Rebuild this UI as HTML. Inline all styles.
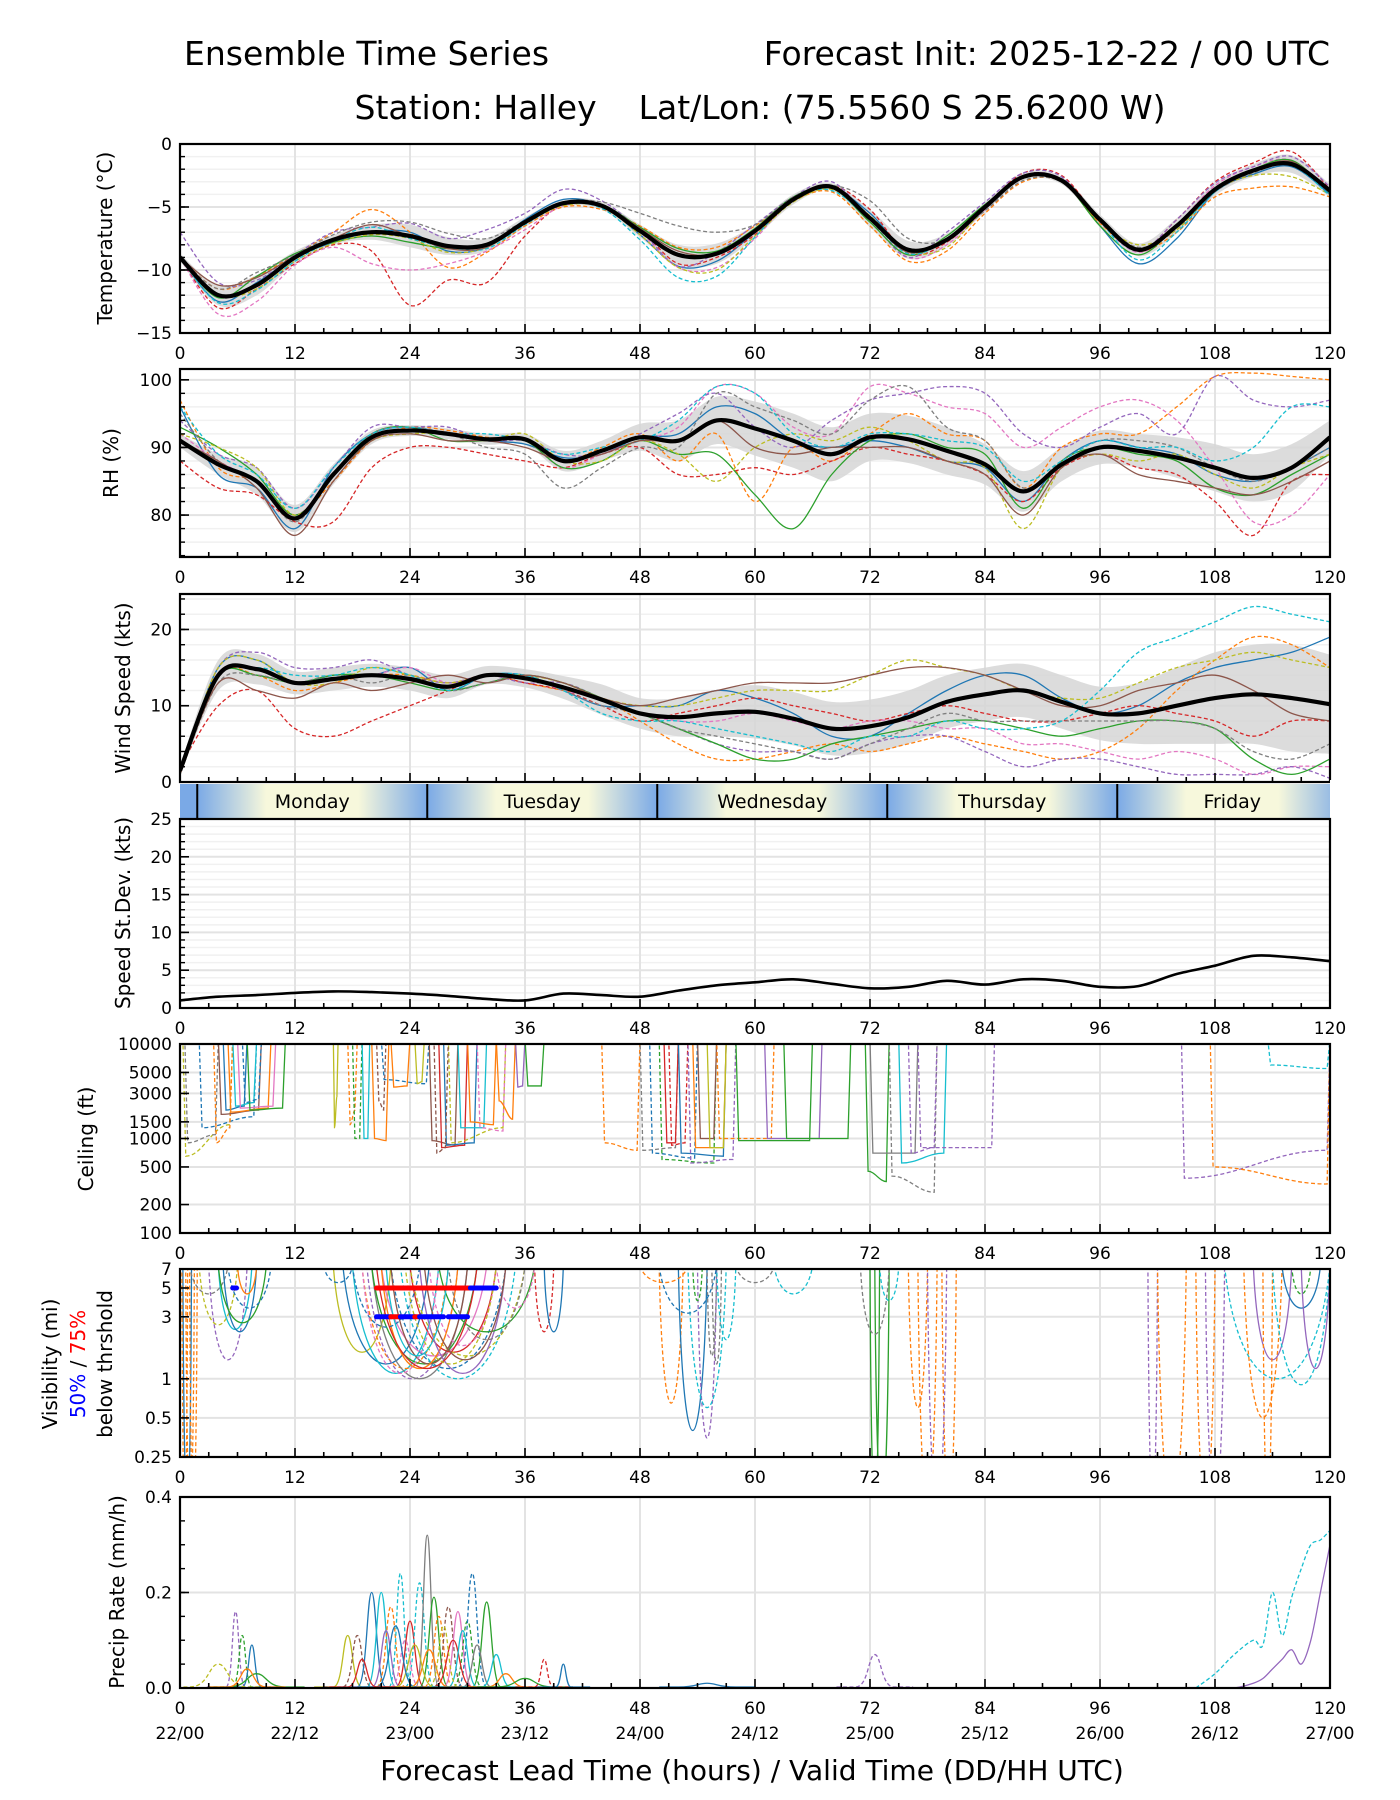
<!DOCTYPE html>
<html><head><meta charset="utf-8"><title>Ensemble Time Series - Halley</title>
<style>
html,body{margin:0;padding:0;background:#fff;}
svg{display:block;font-family:"DejaVu Sans","Liberation Sans",sans-serif;}
</style></head>
<body>
<svg id="chart" width="1400" height="1800" viewBox="0 0 1400 1800" xmlns="http://www.w3.org/2000/svg">
<rect x="0" y="0" width="1400" height="1800" fill="#fff"/>
<text x="184" y="65" font-size="33">Ensemble Time Series</text>
<text x="1330" y="65" font-size="33" text-anchor="end">Forecast Init: 2025-12-22 / 00 UTC</text>
<text x="760" y="119" font-size="33" text-anchor="middle" xml:space="preserve">Station: Halley    Lat/Lon: (75.5560 S 25.6200 W)</text>
<defs>
<linearGradient id="dayGrad" x1="0" x2="1" y1="0" y2="0">
<stop offset="0" stop-color="#7aa9e6"/><stop offset="0.3" stop-color="#f7f8dc"/><stop offset="0.7" stop-color="#f7f8dc"/><stop offset="1" stop-color="#7aa9e6"/>
</linearGradient>
</defs>
</svg>
<script>
// ===== shared categories =====
const hours4 = [0,4,8,12,16,20,24,28,32,36,40,44,48,52,56,60,64,68,72,76,80,84,88,92,96,100,104,108,112,116,120];
const xTickLabels = ['0','12','24','36','48','60','72','84','96','108','120'];
const dateLabels = ['22/00','22/12','23/00','23/12','24/00','24/12','25/00','25/12','26/00','26/12','27/00'];
const dayNames = ['Monday','Tuesday','Wednesday','Thursday','Friday'];
const dayStarts = [1.8,25.8,49.8,73.8,97.8];

// ===== temperature =====
const tempMean = [-9,-12.0,-11.2,-9.0,-7.6,-7.0,-7.3,-8.1,-8.0,-6.2,-4.7,-4.9,-6.9,-8.8,-8.7,-6.9,-4.4,-3.4,-5.9,-8.4,-7.6,-5.0,-2.6,-2.9,-6.0,-8.4,-6.5,-3.6,-2.1,-1.6,-3.7];
const tempSpread = [0.3,0.8,0.8,0.5,0.4,0.6,0.9,0.7,0.5,0.4,0.3,0.3,0.5,0.8,0.8,0.5,0.4,0.3,0.7,0.7,0.5,0.4,0.3,0.3,0.4,0.5,0.6,0.5,0.5,0.7,0.5];
const tempM1 = [-9,-12.5,-11,-9,-7.8,-7,-7,-8.5,-8.2,-6,-4.4,-4.9,-7.2,-9.7,-9.3,-7,-4.4,-3.5,-5.5,-8.5,-7.5,-5,-2.6,-2.8,-6.5,-9.5,-7.5,-3.8,-2.4,-1.8,-4];
const tempM2 = [-9,-11.5,-10.5,-8.8,-7,-5.2,-7,-9.8,-8.6,-6.5,-5,-5.2,-6.5,-8.2,-8.2,-6.5,-4.5,-3.8,-6.5,-9.3,-8.5,-5.5,-3,-3,-6.3,-8.5,-7,-4.2,-3.5,-3.4,-4.2];
const tempM3 = [-9,-13,-11.5,-9.5,-8,-8.5,-12.8,-10.8,-11,-7.3,-4.8,-5,-6.8,-9.5,-9,-7.2,-4.5,-3.3,-5.2,-8.7,-7.8,-5,-2.3,-2.5,-6,-8.5,-6,-3,-1.5,-0.6,-3.6];
const tempM4 = [-9,-13.5,-12.5,-9.6,-8.2,-9.5,-10,-9.5,-8.5,-6.8,-4.9,-5,-7,-9.8,-9.8,-7.5,-4.3,-3.5,-5.8,-9,-8,-5.2,-2.5,-2.8,-6,-8.6,-6.4,-3.3,-1.8,-1.3,-3.8];
const tempM5 = [-7,-11,-10.8,-8.8,-7,-6.6,-6.3,-7.5,-6.8,-5.5,-3.6,-4.5,-6.8,-9.7,-8.6,-6.4,-4.2,-3,-6,-9,-7,-4.6,-2.3,-2.6,-6.2,-8.5,-6,-3.1,-1.8,-1,-3.4];
const tempM6 = [-9,-12.2,-10.5,-8.7,-7.8,-7.3,-7.8,-8.3,-8.0,-6.2,-4.6,-4.8,-6.6,-8.3,-8.5,-6.7,-4.2,-3.5,-6.2,-8.8,-7.3,-4.8,-2.7,-2.9,-6.5,-8.8,-6.5,-3.5,-2,-1.3,-3.9];
const tempM7 = [-9,-11.5,-10.2,-8.8,-7.2,-6.2,-6.2,-7.1,-7.5,-6.1,-4.6,-4.6,-5.5,-6.5,-7,-6.4,-4.2,-3.3,-4.5,-7.5,-7.6,-5.3,-2.9,-3,-6,-8.2,-6.8,-3.8,-2.3,-1.6,-3.8];
const tempM8 = [-9,-12,-11.5,-9.3,-7.9,-7.2,-7.5,-8.6,-8.2,-6.3,-4.9,-5,-7.2,-9.8,-10,-7.3,-4.6,-3.6,-5.7,-8.5,-8.2,-5.1,-2.7,-3,-6.2,-8,-6.8,-3.7,-2.5,-2.6,-4];
const tempM9 = [-9,-12.6,-11.6,-9.3,-7.6,-6.6,-7.5,-8.2,-8.3,-6.4,-4.8,-5.1,-7.6,-10.6,-10.5,-7.4,-4.3,-3.7,-6,-8.7,-7.6,-5,-2.6,-2.8,-6.1,-9.2,-7,-3.8,-2.1,-1.7,-4.1];
const tempM10 = [-9,-11.2,-10.6,-8.9,-7.5,-6.4,-7.3,-8.3,-8.2,-6.1,-4.7,-4.8,-6.7,-8.5,-8.7,-6.8,-4.3,-3.5,-6,-8.6,-7.5,-4.9,-2.6,-2.8,-6.1,-8.5,-6.6,-3.6,-2.1,-1.4,-3.8];

// ===== relative humidity =====
const rhMean = [91,87.5,85,79.5,86,91.5,92.5,92,91.2,91.2,88,89.5,91.5,91,94,92.8,91,89,91.5,91.2,89.5,87.5,83.5,87.5,90,89.5,88.5,87,85.5,87,91.5];
const rhSpread = [1,1.5,2,2,1.5,1,0.8,0.8,0.8,0.8,1.5,1.5,2,3,3.5,4,4,4,3.5,3.5,3.5,3,3,2.5,2.5,2.5,3,3.5,3.5,3.5,2.5];
const rhM1 = [96,86,84,78,87,92,93,92,91,90.5,88.5,89,91.5,92,96,95,91,90,91,90,88,87,82,88,91,90,89,86,85,87,90];
const rhM2 = [97,87,85,80,85,91,93,92.5,91.5,91,88,90,92,88,92,82,90,88,92,95,92,91,84,90,92,92,96,100.5,101,100.5,100];
const rhM3 = [88,84,83,79,79,87,90,90,89,88,87,89,90,86,86,87,86,88,90,89,88,86,82,87,89,87,86,82,77,85,86];
const rhM4 = [92,88,85,80,86,92,93,92,91,91,87,89,91,93,99,98,93,92,99,98,96,95,90,93,96,97,94,87,79,80,86];
const rhM5 = [94,89,87,81,87,93,93,93,91,91,89,89,92,95,98,93,90,94,97,98,99,98,92,90,93,95,92,100.5,97,96,97];
const rhM6 = [93,90,86,80,86,92,93,91,91,91,87,88,91,89,89,83,78,86,91,92,90,89,81,88,90,89,88,84,83,86,89];
const rhM7 = [95,88,85,79,86,92,93,92,90,89,84,87,90,90,98,96,94,92,97,99,93,91,84,88,91,91,90,87,85,87,90];
const rhM8 = [92,90,87,80,86,91,92,92,91,92,88,88,91,89,85,90,92,91,93,91,88,87,78,87,89,88,89,86,84,87,89];
const rhM9 = [96,89,86,81,87,92,93,92,92,91,89,90,91,94,99,98,92,90,92,92,91,90,85,88,91,90,90,88,90,96,96];
const rhM10 = [91,88,84,77,85,91,92,91,91,90,88,89,91,91,94,90,89,90,90,90,88,86,80,87,89,86,85,84,83,85,88];

// ===== wind speed =====
const windMean = [1.5,14,14.8,13,13.5,14,13.5,12.5,14,13.6,12.4,10.8,9,8.5,9,9.2,8.3,7,7.3,8.5,10.5,11.5,12,10.5,9,9,10,11,11.5,11,10.2];
const windSpread = [0.5,2,2,1.5,1.5,1.5,1.5,1.5,1.2,1.2,1.5,2,2,2.5,3,3.5,3.5,3.5,3.5,3.5,3.5,3.5,3.5,3.5,3.5,4,5,6,6.5,7,6.5];
const windM1 = [1,15,16,13,14,14,15,12,14,14,12,10,10,10,12,11,9,6,6,9,12,14,14,11,9,10,13,15,16,17,19];
const windM2 = [1,14,14,12,13,14,14,13,14,13,12,11,8,5,3,3,4,5,4,5,6,5,4,3,4,7,12,16,19,18,15];
const windM3 = [2,10,12,7,6,8,10,12,14,13,12,10,8,9,10,11,10,9,8,9,10,9,8,8,9,10,9,8,6,8,8];
const windM4 = [2,14,15,13,14,14,15,13,14,14,12,11,9,8,8,9,8,7,8,8,7,7,5,5,4,3,4,3,1,2,2];
const windM5 = [1,15,17,15,15,16,14,13,14,13,13,11,9,7,5,4,4,3,5,6,6,4,2,3,3,2,1,1,1,2,0.5];
const windM6 = [2,14,14,13,14,14,13,12,13,14,13,11,9,7,5,3,3,5,6,7,8,8,7,6,7,8,8,7,3,1,3];
const windM7 = [1,13,14,13,14,13,14,12,13,14,12,10,9,7,6,5,4,3,5,7,9,8,8,8,8,8,8,7,4,3,5];
const windM8 = [1,15,16,13,13,15,14,13,14,14,13,11,10,10,11,12,12,12,14,16,15,14,12,11,11,13,15,16,17,16,15];
const windM9 = [1,14,15,14,14,15,14,12,14,14,12,9,8,8,7,6,5,4,6,6,8,7,7,8,12,17,19,21,23,22,21];
const windM10 = [1,13,12,11,13,12,13,14,13,14,13,11,10,11,12,13,13,13,14,15,15,14,12,10,10,12,13,14,12,9,8];

// ===== speed std dev =====
const sdValues = [1,1.5,1.7,2,2.2,2.1,1.9,1.6,1.2,1.0,1.9,1.7,1.5,2.3,3.0,3.4,3.8,3.2,2.6,2.8,3.6,3.1,3.8,3.6,2.8,2.9,4.5,5.6,6.9,6.7,6.2];

// ===== ceiling events (hours / ft) =====
const ceilStart = [0.3,0.5,2,3.5,4,4.5,5,5.5,6,7,6.5,16,17.5,18,19,20,20.5,21,22,24.5,26,27,27.5,28,29,30,31,26.5,33,35,36,44,48,49,50,50.5,51,52,53,53.5,54,55,56,58,61,63,71.5,72,74,75,76,77,104.5,107.5,113.5];
const ceilEnd = [5.5,4,8,5.5,8.5,7,9.5,8,10,11,8.5,16.5,18.5,19,19.8,21.8,21.5,26,24,25.5,29,30,31,34,32,33,34,28,35,36,38,48,52,54,56,52,53,57,58,57,56,57,62,66,67,70,74,77,79,80,79,85,120,120,120];
const ceilLevel = [650,900,1300,900,1800,2000,1900,2200,2100,2000,2400,1300,1400,1000,1000,1000,2500,4200,3500,3800,950,800,850,900,1300,1500,1300,700,2500,3500,3600,900,750,700,600,900,850,700,550,800,1000,800,1000,950,1000,1000,450,700,400,550,700,800,380,500,6000];
const ceilLevelEnd = [1400,1100,1700,1300,2000,2200,2100,2400,2200,2100,2600,2800,2000,1000,1000,950,2000,3800,3600,4000,850,850,900,1300,1300,1400,1200,800,1600,3600,3600,750,800,620,550,900,900,650,600,800,1000,800,1000,950,1000,1000,350,700,270,700,800,800,750,330,5500];
const ceilColor = [8,7,0,1,5,0,1,9,6,2,0,8,1,2,9,1,5,0,1,8,5,3,0,8,9,1,6,5,1,4,2,1,7,0,2,3,3,0,4,1,5,8,1,2,4,2,2,7,7,9,4,4,4,1,9];
const ceilDashed = [1,1,1,1,0,0,0,0,0,0,1,0,1,1,0,0,1,1,0,0,0,0,0,1,0,0,1,1,0,0,0,1,1,1,1,0,1,0,1,0,0,0,1,0,0,0,0,0,1,0,1,1,1,1,1];

// ===== visibility dips (hours / miles) =====
const visStart = [0.3,0.6,0.2,1,1,2,3,4,4.5,4,5,6,16,17,18,19,19.5,20,20,21,22,23,24,22,24,26,21,25,18,15,27,28,37,38,33,50,52,54,53,55,55.5,48,50,56,53.5,62,58,72,72.5,71,73,76,77,79.5,78,101,102,106,107,109,111,112,113,114,115,116,117,19,20.5,23.5,25.5,21.5];
const visEnd = [1.2,1.5,0.8,1.8,5,6,7,7.5,8,9,9.5,8,22,26,27,28,29,30,31,32,34,35,33,30,36,33,29,34,25,18,37,36,39,40,37,52.5,55,56,57,56,56.5,53,56,58,54.5,66,62,73,74,74,75,78,79,81,80,102,105,108,109,120,115,116,114,120,119,118,120,27,31,33,34,28];
const visMin = [0.1,0.1,0.1,0.1,4.5,2.6,1.4,2.4,2.3,2.7,3.5,4.5,1.6,1.3,1.1,1.2,1.0,1.0,1.3,1.5,1.2,1.0,1.6,1.3,1.5,1.8,1.2,1.1,2.5,5.5,2.3,2.0,2.3,2.3,3.5,0.65,0.4,0.35,0.6,1.5,1.3,5.5,3.2,2.0,4,4.5,5.5,0.1,0.1,2.2,4,0.6,0.1,0.1,0.1,0.1,0.1,0.1,0.1,1.0,0.5,1.4,0.1,0.9,3.5,4.5,1.2,1.1,1.2,1.3,1.4,1.5];
const visColor = [0,1,1,1,7,8,4,9,0,2,0,1,8,0,9,1,4,7,2,6,0,9,3,5,8,6,1,4,0,0,2,7,3,0,6,1,0,4,9,7,7,1,0,9,2,9,7,2,2,7,9,1,1,1,4,4,1,1,4,9,1,4,1,9,0,2,4,6,3,8,5,9];
const visDashed = [0,1,1,1,1,1,1,0,0,0,1,0,0,0,0,1,1,0,0,0,1,1,0,0,1,1,0,0,1,1,0,1,1,0,1,1,0,1,1,1,1,1,1,1,1,1,1,0,0,1,1,1,1,1,1,1,1,1,1,1,1,0,1,1,0,1,0,1,0,1,0,0];
// probability-threshold bars
const thrStart = [20.5,30.3,20.5,22,23,24.5,25,28,5.5];
const thrEnd = [30.3,33,22,23,24.5,25,27.5,30,5.9];
const thrLevel = [5,5,3,3,3,3,3,3,5];
const thrIsRed = [1,0,0,1,0,1,0,0,0];

// ===== precipitation spikes (hours / mm/h) =====
const precCenter = [5.8,6.5,7.5,4,8,7,17.5,18.5,20,21,22,23,24,25,25.8,26.5,27,28,29,30,30.5,32,21.5,23.5,26,28.5,24.5,22.5,29.5,27.5,31,33,19,34,36,38,40,72.5,55];
const precHalfWidth = [1,1,1,3,3,2,1.5,1.5,1.5,1.5,1.5,1.2,1.5,1.5,1.2,1.5,1.5,1.5,1.5,1.5,1.5,1.5,1.5,1.5,2,2,2,2,1.5,1.5,1.5,1.5,1.5,2,3,1,0.8,2,3];
const precPeak = [0.16,0.11,0.09,0.05,0.03,0.04,0.11,0.11,0.2,0.2,0.17,0.24,0.14,0.22,0.32,0.19,0.15,0.17,0.16,0.14,0.24,0.18,0.12,0.1,0.08,0.1,0.09,0.13,0.12,0.13,0.09,0.07,0.06,0.03,0.02,0.06,0.05,0.07,0.01];
const precColor = [4,2,0,8,2,1,8,5,0,9,1,9,3,9,7,2,1,5,6,2,0,2,4,6,1,3,8,0,9,8,7,9,3,1,2,3,0,4,0];
const precDashed = [1,1,0,1,0,0,0,1,0,0,1,1,0,1,0,0,1,1,0,1,1,0,0,1,0,0,0,0,0,1,0,0,0,0,0,1,0,1,0];
const precLateHours = [106,108,110,112,113,114,115,116,117,118,119,120];
const precLateCyan = [0,0.03,0.07,0.1,0.09,0.2,0.11,0.19,0.25,0.3,0.31,0.33];
const precLatePurple = [0,0,0,0.01,0.02,0.04,0.06,0.08,0.05,0.1,0.2,0.3];

// ===== styling (not data) =====
const COLORS = ['#1f77b4','#ff7f0e','#2ca02c','#d62728','#9467bd','#8c564b','#e377c2','#7f7f7f','#bcbd22','#17becf'];
const memberColor = [0,1,3,6,4,2,7,8,9,5];
const memberDash = [0,1,1,1,1,0,1,1,1,0];

const NS = 'http://www.w3.org/2000/svg';
const svg = document.getElementById('chart');
const X0 = 180, X1 = 1330;
function xs(h){ return X0 + h*(X1-X0)/120; }
const P = {
  temp:{top:144,bottom:333,min:-15,max:0,log:false},
  rh:{top:369,bottom:557,min:73.8,max:101.6,log:false},
  wind:{top:594,bottom:782,min:0,max:24.65,log:false},
  sd:{top:819,bottom:1008,min:0,max:25,log:false},
  ceil:{top:1044,bottom:1233,min:100,max:10000,log:true},
  vis:{top:1269,bottom:1457,min:0.25,max:7,log:true},
  prec:{top:1497,bottom:1688,min:0,max:0.4,log:false}
};
function ys(p,v){
  if(p.log){ const a=Math.log10(p.min), b=Math.log10(p.max); return p.bottom-(Math.log10(Math.max(v,1e-6))-a)/(b-a)*(p.bottom-p.top); }
  return p.bottom-(v-p.min)/(p.max-p.min)*(p.bottom-p.top);
}
function el(tag, attrs, parent){
  const e=document.createElementNS(NS,tag);
  for(const k in attrs) e.setAttribute(k,attrs[k]);
  (parent||svg).appendChild(e);
  return e;
}
function smooth(pts){
  let d='M'+pts[0][0].toFixed(1)+','+pts[0][1].toFixed(1);
  const n=pts.length;
  for(let i=0;i<n-1;i++){
    const p0=pts[Math.max(i-1,0)],p1=pts[i],p2=pts[i+1],p3=pts[Math.min(i+2,n-1)];
    const c1x=p1[0]+(p2[0]-p0[0])/6,c1y=p1[1]+(p2[1]-p0[1])/6;
    const c2x=p2[0]-(p3[0]-p1[0])/6,c2y=p2[1]-(p3[1]-p1[1])/6;
    d+=' C'+c1x.toFixed(1)+','+c1y.toFixed(1)+' '+c2x.toFixed(1)+','+c2y.toFixed(1)+' '+p2[0].toFixed(1)+','+p2[1].toFixed(1);
  }
  return d;
}
function clipFor(key,p){
  const defs=svg.querySelector('defs');
  const cp=el('clipPath',{id:'clip-'+key},defs);
  el('rect',{x:X0,y:p.top,width:X1-X0,height:p.bottom-p.top},cp);
  return 'url(#clip-'+key+')';
}

// ----- axes / grid -----
function drawGridAndAxes(key,p,yMajor,yMinor,name){
  const g=el('g',{});
  
  
  yMinor.forEach(v=>{ const y=ys(p,v);
    const ln=el('line',{x1:X0,x2:X1,y1:y,y2:y,stroke:'#f1f1f1','stroke-width':1.5},g);
    
    
  });
  yMajor.forEach(v=>{ const y=ys(p,v);
    const ln=el('line',{x1:X0,x2:X1,y1:y,y2:y,stroke:'#e3e3e3','stroke-width':2},g);
    
    
  });
  for(let h=12;h<120;h+=12){
    const ln=el('line',{x1:xs(h),x2:xs(h),y1:p.top,y2:p.bottom,stroke:'#e3e3e3','stroke-width':2},g);
    
    
  }
  return g;
}
function drawFrame(key,p,yMajor,yMinorTicks,yLabelFmt,xLabels,name){
  const g=el('g',{});
  
  
  el('rect',{x:X0,y:p.top,width:X1-X0,height:p.bottom-p.top,fill:'none',stroke:'#000','stroke-width':2.2},g);
  for(let h=0;h<=120;h+=3){
    const major=h%12===0;
    el('line',{x1:xs(h),x2:xs(h),y1:p.bottom,y2:p.bottom-(major?9:5),stroke:'#000','stroke-width':1.6},g);
  }
  yMinorTicks.forEach(v=>{const y=ys(p,v); el('line',{x1:X0,x2:X0+5,y1:y,y2:y,stroke:'#000','stroke-width':1.4},g);});
  yMajor.forEach(v=>{const y=ys(p,v);
    el('line',{x1:X0,x2:X0+9,y1:y,y2:y,stroke:'#000','stroke-width':1.6},g);
    const t=el('text',{x:X0-8,y:y+6,'font-size':17,'text-anchor':'end'},g);
    t.textContent=yLabelFmt(v);
    
    
  });
  xLabels.forEach((lab,i)=>{
    const t=el('text',{x:xs(i*12),y:p.bottom+26,'font-size':17,'text-anchor':'middle'},g);
    t.textContent=lab;
    
    
  });
}
function yTitle(x,y,txt,name){
  const t=el('text',{x:0,y:0,'font-size':20,'text-anchor':'middle',transform:'translate('+x+','+y+') rotate(-90)'});
  t.textContent=txt;
  
  
}
function range(a,b,s){const r=[];for(let v=a;v<=b+1e-9;v+=s)r.push(+v.toFixed(4));return r;}

function drawEnsemble(key,p,mean,spread,members,name){
  const clip=clipFor(key,p);
  const g=el('g',{'clip-path':clip});
  
  
  const up=hours4.map((h,i)=>[xs(h),ys(p,mean[i]+spread[i])]);
  const lo=hours4.map((h,i)=>[xs(h),ys(p,mean[i]-spread[i])]).reverse();
  const bandD=smooth(up)+' L'+lo[0][0]+','+lo[0][1]+' '+smooth(lo).slice(1)+' Z';
  const band=el('path',{d:bandD,fill:'#d6d6d6','fill-opacity':0.85,stroke:'none'},g);
  
  
  members.forEach((m,k)=>{
    const pts=hours4.map((h,i)=>[xs(h),ys(p,m[i])]);
    const a={d:smooth(pts),fill:'none',stroke:COLORS[memberColor[k]],'stroke-width':1.3};
    if(memberDash[k]) a['stroke-dasharray']='4,2.5';
    const ln=el('path',a,g);
    
    
  });
  const mp=hours4.map((h,i)=>[xs(h),ys(p,mean[i])]);
  const ml=el('path',{d:smooth(mp),fill:'none',stroke:'#000','stroke-width':4.2,'stroke-linejoin':'round'},g);
  
  
}

// ===== Temperature =====
drawGridAndAxes('temp',P.temp,[0,-5,-10,-15],range(-15,0,1),'temperature');
drawEnsemble('temp',P.temp,tempMean,tempSpread,[tempM1,tempM2,tempM3,tempM4,tempM5,tempM6,tempM7,tempM8,tempM9,tempM10],'temperature');
drawFrame('temp',P.temp,[0,-5,-10,-15],range(-15,0,1),v=>v<0?'\u2212'+(-v):''+v,xTickLabels,'temperature');
yTitle(112,238,'Temperature (°C)','temperature-y-axis-title');

// ===== RH =====
drawGridAndAxes('rh',P.rh,[80,90,100],range(74,100,2),'rh');
drawEnsemble('rh',P.rh,rhMean,rhSpread,[rhM1,rhM2,rhM3,rhM4,rhM5,rhM6,rhM7,rhM8,rhM9,rhM10],'rh');
drawFrame('rh',P.rh,[80,90,100],range(74,100,2),v=>''+v,xTickLabels,'rh');
yTitle(118,463,'RH (%)','rh-y-axis-title');

// ===== Wind =====
drawGridAndAxes('wind',P.wind,[0,10,20],range(0,24,2),'wind');
drawEnsemble('wind',P.wind,windMean,windSpread,[windM1,windM2,windM3,windM4,windM5,windM6,windM7,windM8,windM9,windM10],'wind');
drawFrame('wind',P.wind,[0,10,20],range(0,24,2),v=>''+v,[],'wind');
yTitle(130,688,'Wind Speed (kts)','wind-y-axis-title');

// ===== Day bar =====
(function(){
  const g=el('g',{});
  
  
  const r0=el('rect',{x:X0,y:784,width:xs(dayStarts[0])-X0,height:34,fill:'#7aa9e6'},g);
  
  
  dayStarts.forEach((s,i)=>{
    const r=el('rect',{x:xs(s),y:784,width:xs(s+24)-xs(s),height:34,fill:'url(#dayGrad)'},g);
    
    
    const t=el('text',{x:xs(s+12),y:808,'font-size':19,'text-anchor':'middle'},g);
    t.textContent=dayNames[i];
    
    
    el('line',{x1:xs(s),x2:xs(s),y1:784,y2:818,stroke:'#000','stroke-width':2},g);
  });
  const cover=el('rect',{x:X1,y:780,width:70,height:40,fill:'#fff'},g);
  
  
})();

// ===== Speed StDev =====
drawGridAndAxes('sd',P.sd,[0,5,10,15,20,25],range(0,25,1),'stdev');
(function(){
  const clip=clipFor('sd',P.sd);
  const g=el('g',{'clip-path':clip});
  
  
  const pts=hours4.map((h,i)=>[xs(h),ys(P.sd,sdValues[i])]);
  const l=el('path',{d:smooth(pts),fill:'none',stroke:'#000','stroke-width':2.6},g);
  
  
})();
drawFrame('sd',P.sd,[0,5,10,15,20,25],range(0,25,1),v=>''+v,xTickLabels,'stdev');
yTitle(130,913,'Speed St.Dev. (kts)','stdev-y-axis-title');

// ===== Ceiling =====
const ceilTicks=[100,200,500,1000,1500,3000,5000,10000];
drawGridAndAxes('ceil',P.ceil,ceilTicks,[],'ceiling');
(function(){
  const clip=clipFor('ceil',P.ceil);
  const g=el('g',{'clip-path':clip});
  
  
  ceilStart.forEach((s,i)=>{
    const e=ceilEnd[i], top=P.ceil.top-5;
    const y1=ys(P.ceil,ceilLevel[i]), y2=ys(P.ceil,ceilLevelEnd[i]);
    const w=Math.min(0.3,(e-s)/4);
    const d='M'+xs(s)+','+top+' L'+xs(s+w)+','+y1+' C'+xs(s+(e-s)*0.4)+','+y1+' '+xs(s+(e-s)*0.6)+','+y2+' '+xs(e-w)+','+y2+' L'+xs(e)+','+top;
    const a={d:d,fill:'none',stroke:COLORS[ceilColor[i]],'stroke-width':1.3};
    if(ceilDashed[i]) a['stroke-dasharray']='4,2.5';
    const l=el('path',a,g);
    
    
  });
})();
drawFrame('ceil',P.ceil,ceilTicks,[],v=>''+v,xTickLabels,'ceiling');
yTitle(93,1139,'Ceiling (ft)','ceiling-y-axis-title');

// ===== Visibility =====
const visTicks=[0.25,0.5,1,3,5,7];
drawGridAndAxes('vis',P.vis,visTicks,[],'visibility');
(function(){
  const clip=clipFor('vis',P.vis);
  const g=el('g',{'clip-path':clip});
  
  
  visStart.forEach((s,i)=>{
    const e=visEnd[i], top=P.vis.top-3, yb=ys(P.vis,visMin[i]);
    const yc=top+(yb-top)*4/3;
    const d='M'+xs(s)+','+top+' C'+xs(s+(e-s)*0.15)+','+yc+' '+xs(e-(e-s)*0.15)+','+yc+' '+xs(e)+','+top;
    const a={d:d,fill:'none',stroke:COLORS[visColor[i]],'stroke-width':1.3};
    if(visDashed[i]) a['stroke-dasharray']='4,2.5';
    const l=el('path',a,g);
    
    
  });
  thrStart.forEach((s,i)=>{
    const y=ys(P.vis,thrLevel[i]);
    const l=el('line',{x1:xs(s),x2:xs(thrEnd[i]),y1:y,y2:y,stroke:thrIsRed[i]?'#ff0000':'#0000ff','stroke-width':5,'stroke-linecap':'round'},g);
    
    
  });
})();
drawFrame('vis',P.vis,visTicks,[],v=>''+v,xTickLabels,'visibility');
(function(){
  const t=el('text',{x:0,y:0,'font-size':20,'text-anchor':'middle',transform:'translate(57,1364) rotate(-90)'});
  t.textContent='Visibility (mi)';
  
  
  const t2=el('text',{x:0,y:0,'font-size':20,'text-anchor':'middle',transform:'translate(85,1364) rotate(-90)'});
  
  
  const a=el('tspan',{fill:'#0000ff'},t2); a.textContent='50%';
  const b=el('tspan',{fill:'#000'},t2); b.textContent=' / ';
  const c=el('tspan',{fill:'#ff0000'},t2); c.textContent='75%';
  const t3=el('text',{x:0,y:0,'font-size':20,'text-anchor':'middle',transform:'translate(112,1364) rotate(-90)'});
  t3.textContent='below thrshold';
  
  
})();

// ===== Precip =====
drawGridAndAxes('prec',P.prec,[0,0.2,0.4],[],'precip');
(function(){
  const clip=clipFor('prec',P.prec);
  const g=el('g',{'clip-path':clip});
  
  
  const yb=ys(P.prec,0)-1;
  precCenter.forEach((c,i)=>{
    const w=precHalfWidth[i], yp=ys(P.prec,precPeak[i]);
    const d='M'+xs(c-w-2)+','+yb+' L'+xs(c-w)+','+yb+' C'+xs(c-w/3)+','+yb+' '+xs(c-w/3)+','+yp+' '+xs(c)+','+yp+' C'+xs(c+w/3)+','+yp+' '+xs(c+w/3)+','+yb+' '+xs(c+w)+','+yb+' L'+xs(c+w+2)+','+yb;
    const a={d:d,fill:'none',stroke:COLORS[precColor[i]],'stroke-width':1.3};
    if(precDashed[i]) a['stroke-dasharray']='4,2.5';
    const l=el('path',a,g);
    
    
  });
  const cy=precLateHours.map((h,i)=>[xs(h),ys(P.prec,precLateCyan[i])]);
  const l1=el('path',{d:smooth(cy),fill:'none',stroke:COLORS[9],'stroke-width':1.3,'stroke-dasharray':'4,2.5'},g);
  
  
  const pp=precLateHours.map((h,i)=>[xs(h),ys(P.prec,precLatePurple[i])]);
  const l2=el('path',{d:smooth(pp),fill:'none',stroke:COLORS[4],'stroke-width':1.3},g);
  
  
})();
drawFrame('prec',P.prec,[0,0.2,0.4],range(0,0.4,0.05),v=>v.toFixed(1),xTickLabels,'precip');
dateLabels.forEach((lab,i)=>{
  const t=el('text',{x:xs(i*12),y:1739,'font-size':17,'text-anchor':'middle'});
  t.textContent=lab;
  
  
});
yTitle(124,1592,'Precip Rate (mm/h)','precip-y-axis-title');
(function(){
  const t=el('text',{x:752,y:1780,'font-size':28,'text-anchor':'middle'});
  t.textContent='Forecast Lead Time (hours) / Valid Time (DD/HH UTC)';
  
  
})();
</script>
</body></html>
